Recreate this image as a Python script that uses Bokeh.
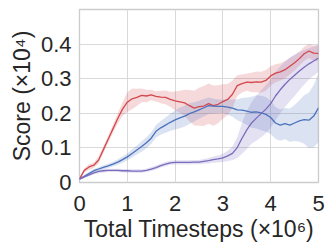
from bokeh.plotting import figure
from bokeh.models import Range1d, FixedTicker, CustomJSTickFormatter
from bokeh.embed import file_html
from bokeh.resources import INLINE

timesteps = [i / 10 for i in range(51)]  # x 10^6

red_mean = [0.010, 0.035, 0.045, 0.050, 0.065, 0.095, 0.125, 0.155, 0.185, 0.212,
            0.232, 0.242, 0.246, 0.252, 0.250, 0.253, 0.249, 0.247, 0.246, 0.240,
            0.236, 0.233, 0.230, 0.222, 0.215, 0.219, 0.221, 0.228, 0.222, 0.226,
            0.234, 0.240, 0.255, 0.280, 0.286, 0.290, 0.289, 0.291, 0.290, 0.295,
            0.308, 0.316, 0.320, 0.326, 0.336, 0.346, 0.358, 0.372, 0.380, 0.374,
            0.373]
red_std = [0.004, 0.006, 0.008, 0.008, 0.010, 0.010, 0.010, 0.012, 0.015, 0.020,
           0.028, 0.030, 0.025, 0.020, 0.018, 0.015, 0.015, 0.018, 0.020, 0.022,
           0.027, 0.032, 0.038, 0.045, 0.050, 0.055, 0.058, 0.058, 0.058, 0.055,
           0.050, 0.045, 0.040, 0.030, 0.026, 0.025, 0.028, 0.030, 0.030, 0.030,
           0.028, 0.026, 0.025, 0.025, 0.024, 0.022, 0.020, 0.020, 0.020, 0.022,
           0.022]

blue_mean = [0.010, 0.018, 0.026, 0.034, 0.039, 0.044, 0.048, 0.053, 0.059, 0.066,
             0.074, 0.084, 0.094, 0.104, 0.115, 0.128, 0.148, 0.158, 0.166, 0.174,
             0.181, 0.187, 0.192, 0.199, 0.204, 0.210, 0.216, 0.222, 0.221, 0.220,
             0.220, 0.218, 0.215, 0.210, 0.209, 0.206, 0.203, 0.204, 0.201, 0.197,
             0.188, 0.172, 0.166, 0.170, 0.166, 0.172, 0.178, 0.182, 0.180, 0.192,
             0.216]
blue_std = [0.003, 0.004, 0.005, 0.005, 0.005, 0.006, 0.006, 0.007, 0.008, 0.009,
            0.010, 0.012, 0.013, 0.015, 0.016, 0.017, 0.018, 0.020, 0.022, 0.025,
            0.028, 0.030, 0.030, 0.030, 0.028, 0.026, 0.025, 0.024, 0.022, 0.020,
            0.020, 0.022, 0.025, 0.030, 0.035, 0.040, 0.045, 0.048, 0.050, 0.050,
            0.048, 0.046, 0.045, 0.045, 0.048, 0.052, 0.060, 0.070, 0.080, 0.090,
            0.100]

purple_mean = [0.010, 0.016, 0.022, 0.028, 0.032, 0.034, 0.035, 0.035, 0.035, 0.034,
               0.034, 0.033, 0.033, 0.033, 0.035, 0.039, 0.043, 0.049, 0.053, 0.057,
               0.058, 0.058, 0.058, 0.058, 0.059, 0.059, 0.061, 0.063, 0.066, 0.068,
               0.071, 0.077, 0.084, 0.101, 0.128, 0.152, 0.172, 0.186, 0.199, 0.212,
               0.228, 0.250, 0.268, 0.284, 0.298, 0.310, 0.322, 0.333, 0.343, 0.351,
               0.360]
purple_std = [0.003, 0.004, 0.004, 0.005, 0.005, 0.005, 0.005, 0.005, 0.005, 0.005,
              0.005, 0.005, 0.005, 0.005, 0.005, 0.006, 0.006, 0.006, 0.006, 0.006,
              0.006, 0.006, 0.006, 0.006, 0.006, 0.006, 0.007, 0.008, 0.009, 0.010,
              0.012, 0.015, 0.020, 0.030, 0.045, 0.055, 0.060, 0.065, 0.068, 0.070,
              0.070, 0.070, 0.068, 0.066, 0.063, 0.060, 0.055, 0.050, 0.045, 0.042,
              0.040]

x_ticks = [0, 1, 2, 3, 4, 5]
y_ticks = [0, 0.1, 0.2, 0.3, 0.4]

series = [
    (red_mean, red_std, "#d4474c"),
    (blue_mean, blue_std, "#4a72bd"),
    (purple_mean, purple_std, "#7a6bbd"),
]

FONT = "Liberation Sans"
TXT = "#262626"

p = figure(width=333, height=250, output_backend="svg", toolbar_location=None,
           x_range=Range1d(0, 5), y_range=Range1d(0, 0.5),
           min_border_left=79, min_border_right=15, min_border_top=9, min_border_bottom=68)

for mean, std, color in series:
    lo = [m - s for m, s in zip(mean, std)]
    hi = [m + s for m, s in zip(mean, std)]
    p.varea(x=timesteps, y1=lo, y2=hi, fill_color=color, fill_alpha=0.2)
for mean, std, color in series:
    p.line(timesteps, mean, line_color=color, line_width=1.3)

p.background_fill_color = "white"
p.border_fill_color = "white"
p.outline_line_color = "#cccccc"
p.outline_line_width = 1.3

p.xaxis.ticker = FixedTicker(ticks=x_ticks)
p.yaxis.ticker = FixedTicker(ticks=y_ticks)
p.yaxis.formatter = CustomJSTickFormatter(code="return tick == 0 ? '0' : tick.toFixed(1);")

for ax in (p.xaxis[0], p.yaxis[0]):
    ax.axis_line_color = None
    ax.major_tick_line_color = None
    ax.minor_tick_line_color = None
    ax.major_tick_in = 0
    ax.major_tick_out = 0
    ax.minor_tick_out = 0
    ax.major_label_text_font = FONT
    ax.major_label_text_font_size = "22px"
    ax.major_label_text_color = TXT
    ax.axis_label_text_font = FONT
    ax.axis_label_text_font_size = "23px"
    ax.axis_label_text_font_style = "normal"
    ax.axis_label_text_color = TXT

p.xaxis.axis_label = "Total Timesteps (×10⁶)"
p.yaxis.axis_label = "Score (×10⁴)"
p.xaxis.major_label_standoff = 13
p.xaxis.axis_label_standoff = 2
p.yaxis.major_label_standoff = 8
p.yaxis.axis_label_standoff = 3

p.grid.grid_line_color = "#d9d9d9"
p.grid.grid_line_width = 1

open("out.html", "w").write(file_html(p, INLINE))
